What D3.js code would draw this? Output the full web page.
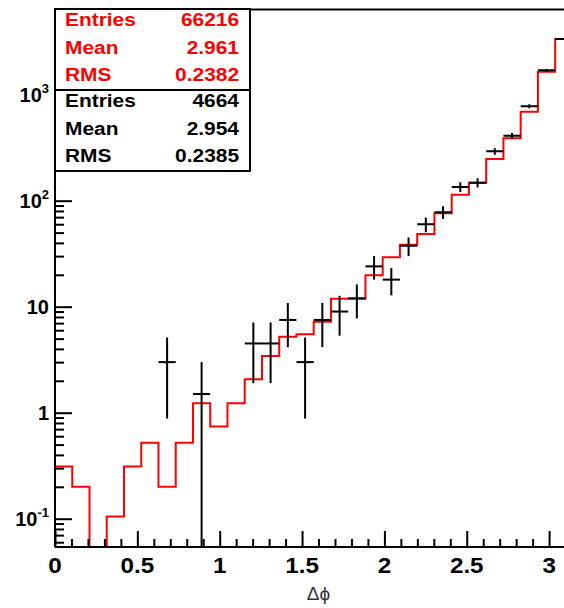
<!DOCTYPE html>
<html>
<head>
<meta charset="utf-8">
<script src="https://cdn.jsdelivr.net/npm/d3@7"></script>
<style>
  html, body { margin: 0; padding: 0; background: #fff; }
  svg { display: block; }
  text { font-family: "Liberation Sans", Arial, Helvetica, sans-serif; }
</style>
</head>
<body>
<svg id="chart" width="564" height="608"></svg>
<script>
// Δφ distribution, 30 bins over [0, π]
const nBins = 30;
const xMax = Math.PI;

// reference sample (red outline), weighted per bin
const refValues = [0.31, 0.2, 0, 0.105, 0.31, 0.52, 0.2, 0.52, 1.23, 0.74,
                   1.23, 2.07, 3.43, 5.2, 5.5, 7.2, 11.9, 11.9, 19.8, 29.3,
                   38.5, 48.5, 76, 114, 148, 247, 388, 691, 1648, 3350];

// measured sample (black points with errors); null = empty bin
const dataValues = [null, null, null, null, null, null, 3.0, null, 1.5, null,
                    null, 4.5, 4.5, 7.5, 3.0, 7.5, 9.0, 12, 24, 18,
                    37.5, 60, 78, 135, 148, 292, 410, 780, 1700, 3350];
const dataErrors = [null, null, null, null, null, null, 2.12, null, 1.5, null,
                    null, 2.6, 2.6, 3.35, 2.12, 3.35, 3.67, 4.24, 6.0, 5.2,
                    7.5, 9.5, 10.8, 14.2, 14.9, 20.9, 24.8, 34.2, 50.5, 70.9];

const xTicks = [0, 0.5, 1, 1.5, 2, 2.5, 3];
const yDecades = [0.1, 1, 10, 100, 1000];
const yTickLabels = [["10", "-1"], ["1", null], ["10", null], ["10", "2"], ["10", "3"]];

const refStats = [["Entries", "66216"], ["Mean", "2.961"], ["RMS", "0.2382"]];
const dataStats = [["Entries", "4664"], ["Mean", "2.954"], ["RMS", "0.2385"]];

const svg = d3.select("#chart");
const plotLeft = 55, plotBottom = 547, plotTop = 9.5;
const pxPerUnit = 164.7;
const plotRight = plotLeft + pxPerUnit * xMax;
const pxPerDecade = 106;
const stretch = 1.1; // wide bold face

const x = d3.scaleLinear().domain([0, xMax]).range([plotLeft, plotRight]);
const yMin = Math.pow(10, -1 - (plotBottom - 518.7) / pxPerDecade);
const yMax = Math.pow(10, 3 + (94.7 - plotTop) / pxPerDecade);
const y = d3.scaleLog().domain([yMin, yMax]).range([plotBottom, plotTop]);

const binW = xMax / nBins;
const edges = d3.range(nBins + 1).map(i => i * binW);

svg.append("defs").append("clipPath").attr("id", "plotClip")
  .append("rect").attr("x", plotLeft).attr("y", plotTop)
  .attr("width", plotRight - plotLeft).attr("height", plotBottom - plotTop);

const plot = svg.append("g").attr("clip-path", "url(#plotClip)");

// red step outline
const stepPts = [];
refValues.forEach((v, i) => {
  const vv = v > 0 ? v : yMin * 0.5;
  stepPts.push([edges[i], vv], [edges[i + 1], vv]);
});
const clampY = v => Math.min(plotBottom + 2, y(Math.max(v, yMin * 0.5)));
plot.append("path")
  .attr("d", d3.line().x(d => x(d[0])).y(d => clampY(d[1]))(stepPts))
  .attr("fill", "none").attr("stroke", "#ff0000").attr("stroke-width", 2);

// black error-bar markers
const pts = dataValues.map((v, i) => ({ v, e: dataErrors[i], i })).filter(d => d.v != null);
const eb = plot.append("g").attr("stroke", "#000").attr("stroke-width", 2);
eb.selectAll("line.h").data(pts).join("line").attr("class", "h")
  .attr("x1", d => x(edges[d.i])).attr("x2", d => x(edges[d.i + 1]))
  .attr("y1", d => y(d.v)).attr("y2", d => y(d.v));
eb.selectAll("line.v").data(pts).join("line").attr("class", "v")
  .attr("x1", d => x(edges[d.i] + binW / 2)).attr("x2", d => x(edges[d.i] + binW / 2))
  .attr("y1", d => y(d.v + d.e))
  .attr("y2", d => (d.v - d.e) > yMin ? y(d.v - d.e) : plotBottom);

// frame
const axisStroke = 2;
svg.append("line").attr("x1", plotLeft).attr("x2", 564).attr("y1", plotTop).attr("y2", plotTop)
  .attr("stroke", "#000").attr("stroke-width", axisStroke);

// x axis
const xMinor = d3.range(1, 32).map(k => k / 10).filter(v => v <= xMax && Math.abs(v * 2 - Math.round(v * 2)) > 1e-6);
const xAxis = d3.axisTop(x).tickValues(xTicks).tickSize(16).tickFormat("");
const gx = svg.append("g").attr("transform", `translate(0,${plotBottom})`).call(xAxis);
gx.select(".domain").attr("d", `M${plotLeft},0H${plotRight}`);
gx.selectAll("line, path").attr("stroke", "#000").attr("stroke-width", axisStroke);
const gxm = svg.append("g").attr("transform", `translate(0,${plotBottom})`)
  .call(d3.axisTop(x).tickValues(xMinor).tickSize(8).tickFormat(""));
gxm.select(".domain").remove();
gxm.selectAll("line").attr("stroke", "#000").attr("stroke-width", axisStroke);

svg.append("g").selectAll("text").data(xTicks).join("text")
  .attr("transform", d => `translate(${x(d)},572.5) scale(${stretch},1)`)
  .attr("text-anchor", "middle")
  .attr("font-size", 22).attr("font-weight", "bold")
  .text(d => d3.format("")(d));

svg.append("text").attr("x", x(1.6)).attr("y", 600)
  .attr("text-anchor", "middle").attr("font-size", 19).attr("fill", "#333")
  .attr("font-family", "'DejaVu Sans', sans-serif")
  .text("Δϕ");

// y axis
const yMinorVals = [];
[0.01, 0.1, 1, 10, 100, 1000].forEach(dec => {
  for (let m = 2; m <= 9; m++) {
    const v = m * dec;
    if (v >= yMin && v <= yMax) yMinorVals.push(v);
  }
});
const gy = svg.append("g").attr("transform", `translate(${plotLeft},0)`)
  .call(d3.axisRight(y).tickValues(yDecades).tickSize(17).tickFormat(""));
gy.select(".domain").attr("d", `M0,${plotBottom}V${plotTop}`);
gy.selectAll("line, path").attr("stroke", "#000").attr("stroke-width", axisStroke);
const gym = svg.append("g").attr("transform", `translate(${plotLeft},0)`)
  .call(d3.axisRight(y).tickValues(yMinorVals).tickSize(9).tickFormat(""));
gym.select(".domain").remove();
gym.selectAll("line").attr("stroke", "#000").attr("stroke-width", axisStroke);

const yl = svg.append("g").selectAll("text").data(yDecades).join("text")
  .attr("x", 49).attr("y", d => y(d) + 7)
  .attr("text-anchor", "end")
  .attr("font-size", 20).attr("font-weight", "bold");
yl.each(function (d, i) {
  const [base, sup] = yTickLabels[i];
  const t = d3.select(this);
  t.append("tspan").text(base);
  if (sup) t.append("tspan").attr("font-size", 13).attr("dy", -9).text(sup);
});

// statistics boxes
function statsBox(rows, y0, color) {
  const g = svg.append("g");
  g.append("rect").attr("x", plotLeft).attr("y", y0).attr("width", 250 - plotLeft).attr("height", 81)
    .attr("fill", "#fff").attr("stroke", "#000").attr("stroke-width", 2);
  rows.forEach((r, k) => {
    const by = y0 + 17 + k * 27.7;
    g.append("text").attr("transform", `translate(65,${by}) scale(${stretch},1)`)
      .attr("fill", color)
      .attr("font-size", 19).attr("font-weight", "bold").text(r[0]);
    g.append("text").attr("transform", `translate(239,${by}) scale(${stretch},1)`)
      .attr("fill", color)
      .attr("text-anchor", "end")
      .attr("font-size", 19).attr("font-weight", "bold").text(r[1]);
  });
}
statsBox(refStats, 9, "#ff0000");
statsBox(dataStats, 90, "#000");
</script>
</body>
</html>
